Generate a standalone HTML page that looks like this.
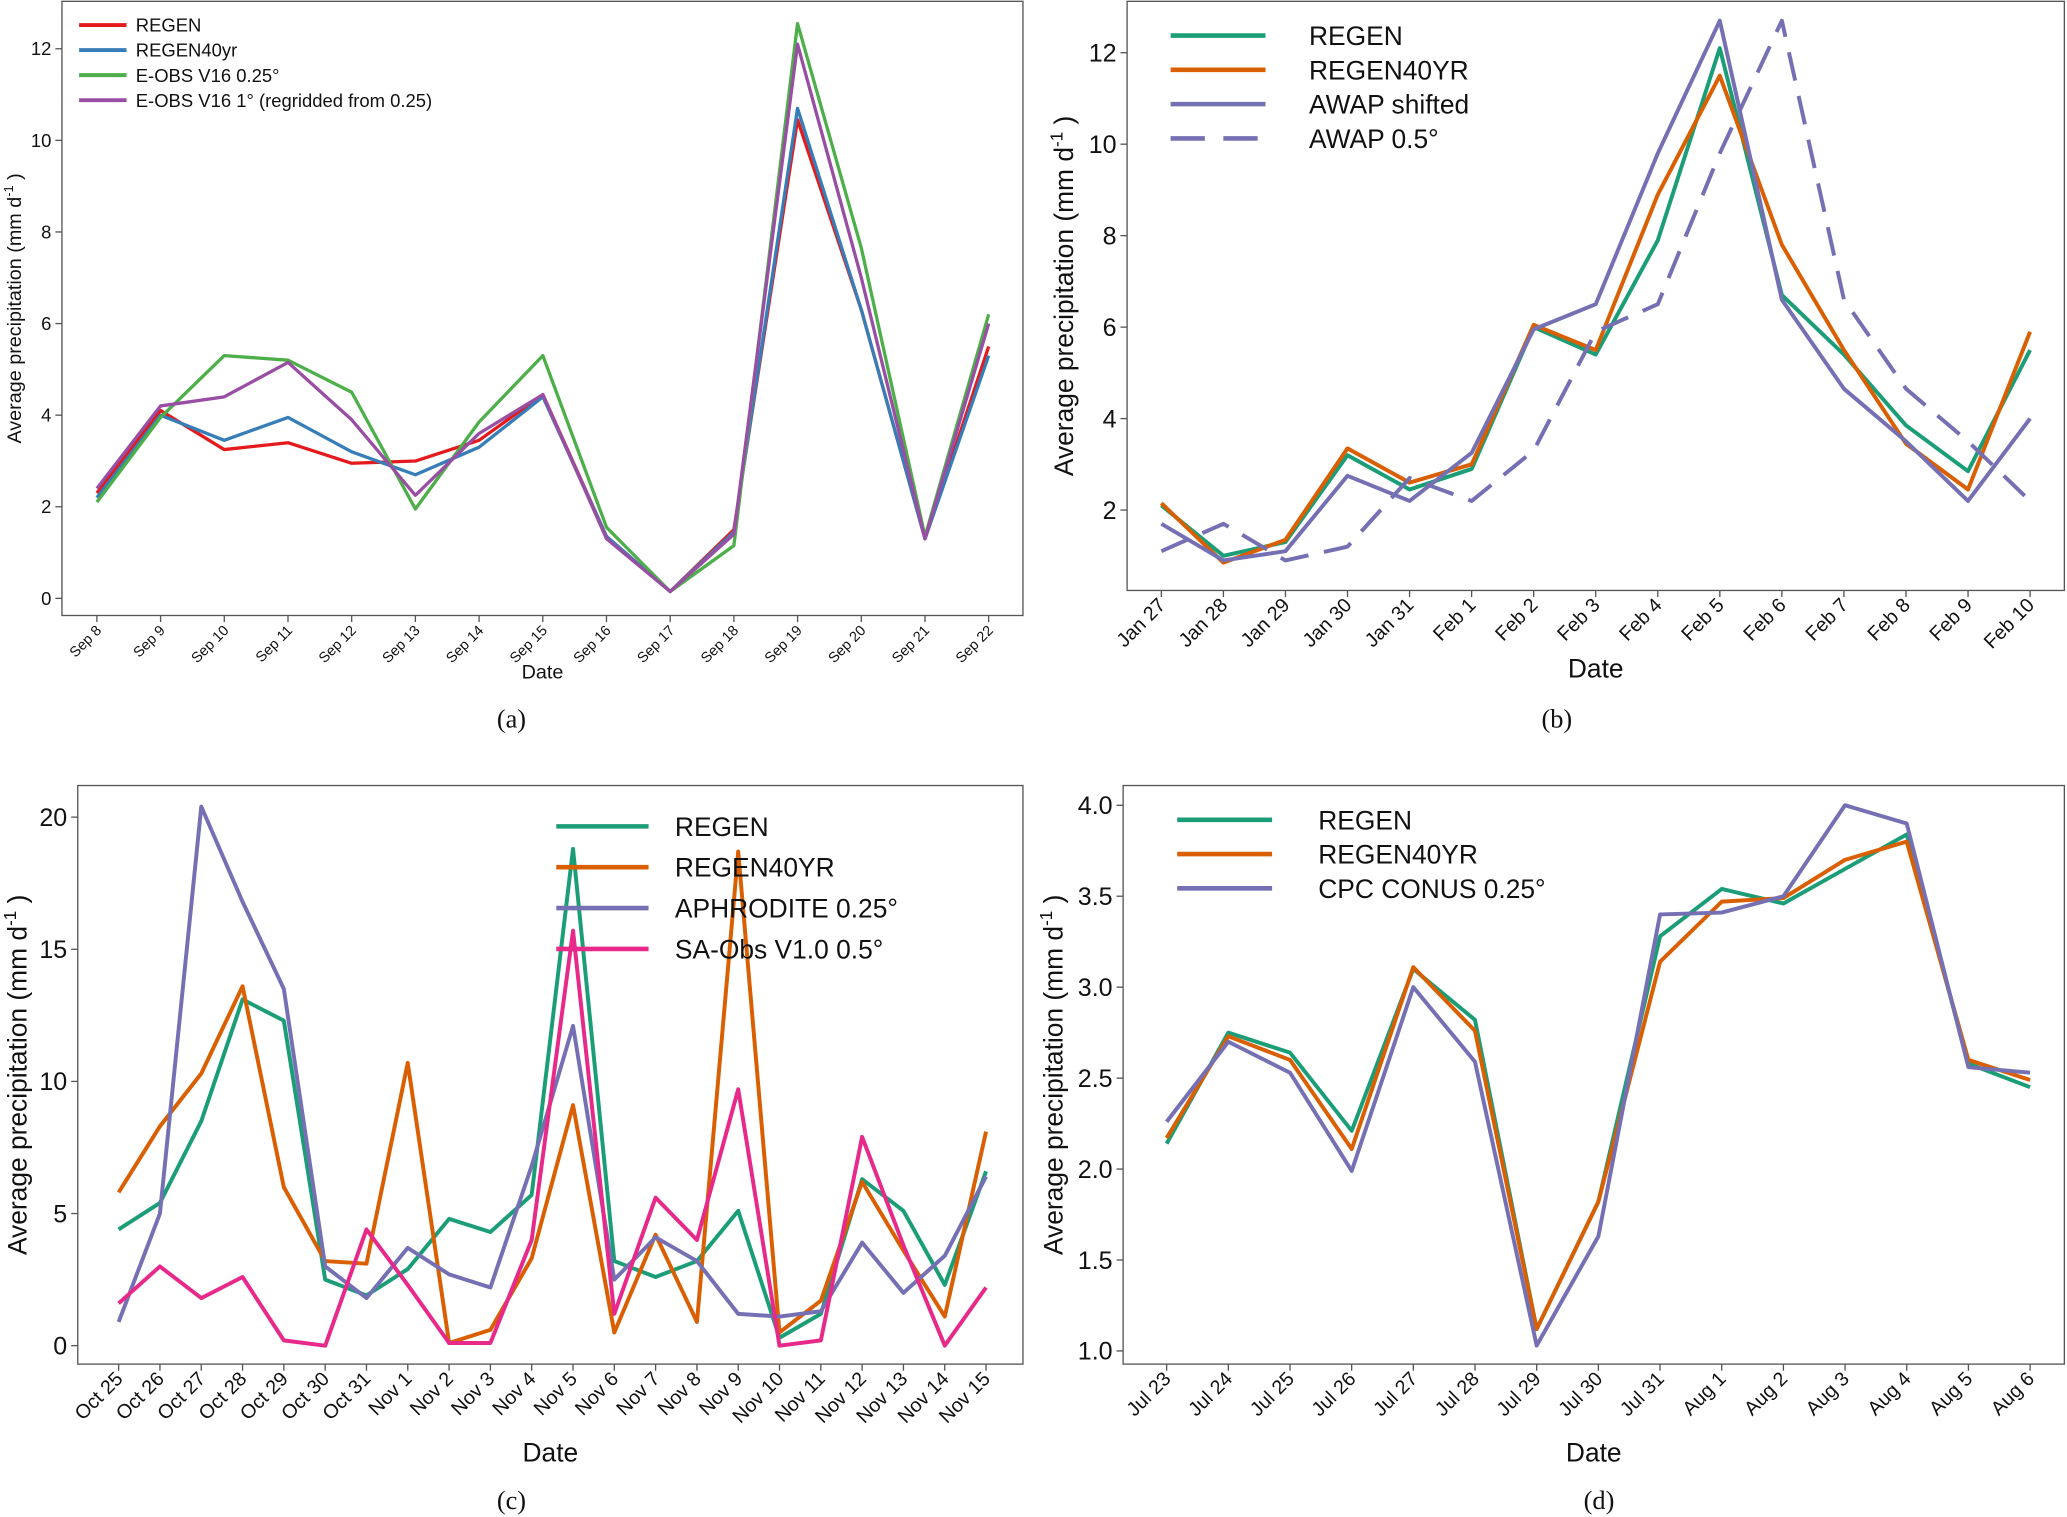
<!DOCTYPE html>
<html><head><meta charset="utf-8"><style>
html,body{margin:0;padding:0;background:#fff}
svg{display:block}
text{font-family:"Liberation Sans",sans-serif;fill:#111}
.cap{font-family:"Liberation Serif",serif;font-size:20px}
</style></head><body>
<svg id="fig" xmlns="http://www.w3.org/2000/svg" width="2067" height="1517" viewBox="0 0 1568 1151" preserveAspectRatio="none"></svg>
<script>
// Panel (a)
const catsA = ["Sep 8","Sep 9","Sep 10","Sep 11","Sep 12","Sep 13","Sep 14","Sep 15","Sep 16","Sep 17","Sep 18","Sep 19","Sep 20","Sep 21","Sep 22"];
const ticksA = [0,2,4,6,8,10,12];
const aRegen = [2.3,4.1,3.25,3.4,2.95,3.0,3.45,4.45,1.35,0.15,1.5,10.45,6.3,1.3,5.5];
const aRegen40 = [2.2,4.0,3.45,3.95,3.2,2.7,3.3,4.4,1.35,0.15,1.45,10.7,6.3,1.3,5.3];
const aEobs025 = [2.1,3.95,5.3,5.2,4.5,1.95,3.85,5.3,1.55,0.15,1.15,12.55,7.65,1.35,6.2];
const aEobs1 = [2.4,4.2,4.4,5.15,3.9,2.25,3.6,4.45,1.3,0.15,1.4,12.1,7.0,1.3,6.0];
// Panel (b)
const catsB = ["Jan 27","Jan 28","Jan 29","Jan 30","Jan 31","Feb 1","Feb 2","Feb 3","Feb 4","Feb 5","Feb 6","Feb 7","Feb 8","Feb 9","Feb 10"];
const ticksB = [2,4,6,8,10,12];
const bRegen = [2.1,1.0,1.3,3.2,2.45,2.9,6.0,5.4,7.9,12.1,6.7,5.4,3.85,2.85,5.5];
const bRegen40 = [2.15,0.85,1.35,3.35,2.6,3.0,6.05,5.5,8.9,11.5,7.8,5.5,3.45,2.45,5.9];
const bAwapShift = [1.7,0.9,1.1,2.75,2.2,3.25,5.95,6.5,9.8,12.7,6.6,4.65,3.5,2.2,4.0];
const bAwap05 = [1.1,1.7,0.9,1.2,2.7,2.2,3.3,5.9,6.5,9.8,12.7,6.6,4.65,3.5,2.2];
// Panel (c)
const catsC = ["Oct 25","Oct 26","Oct 27","Oct 28","Oct 29","Oct 30","Oct 31","Nov 1","Nov 2","Nov 3","Nov 4","Nov 5","Nov 6","Nov 7","Nov 8","Nov 9","Nov 10","Nov 11","Nov 12","Nov 13","Nov 14","Nov 15"];
const ticksC = [0,5,10,15,20];
const cRegen = [4.4,5.4,8.5,13.1,12.3,2.5,1.9,2.9,4.8,4.3,5.7,18.8,3.2,2.6,3.2,5.1,0.3,1.2,6.3,5.1,2.3,6.6];
const cRegen40 = [5.8,8.3,10.3,13.6,6.0,3.2,3.1,10.7,0.1,0.6,3.3,9.1,0.5,4.2,0.9,18.7,0.5,1.7,6.2,3.6,1.1,8.1];
const cAphro = [0.9,5.0,20.4,16.8,13.5,3.0,1.8,3.7,2.7,2.2,6.8,12.1,2.5,4.1,3.2,1.2,1.1,1.3,3.9,2.0,3.4,6.4];
const cSaobs = [1.6,3.0,1.8,2.6,0.2,0.0,4.4,2.3,0.1,0.1,4.0,15.7,1.2,5.6,4.0,9.7,0.0,0.2,7.9,3.8,0.0,2.2];
// Panel (d)
const catsD = ["Jul 23","Jul 24","Jul 25","Jul 26","Jul 27","Jul 28","Jul 29","Jul 30","Jul 31","Aug 1","Aug 2","Aug 3","Aug 4","Aug 5","Aug 6"];
const ticksD = [1.0,1.5,2.0,2.5,3.0,3.5,4.0];
const dRegen = [2.14,2.75,2.64,2.21,3.1,2.82,1.12,1.82,3.28,3.54,3.46,3.65,3.84,2.58,2.45];
const dRegen40 = [2.17,2.73,2.6,2.11,3.11,2.76,1.12,1.82,3.14,3.47,3.49,3.7,3.8,2.6,2.49];
const dCpc = [2.26,2.7,2.53,1.99,3.0,2.59,1.03,1.63,3.4,3.41,3.5,4.0,3.9,2.56,2.53];

const NS="http://www.w3.org/2000/svg";
const svg=document.getElementById('fig');
function mk(tag,attrs,parent,txt){const e=document.createElementNS(NS,tag);for(const k in attrs)e.setAttribute(k,attrs[k]);if(txt!==undefined)e.textContent=txt;(parent||svg).appendChild(e);return e;}

function panel(cfg){
  const g=mk('g',{});
  
  
  const n=cfg.cats.length;
  const xs=i=>cfg.x0+(cfg.x1-cfg.x0)*i/(n-1);
  const ys=v=>cfg.yb+(cfg.yt-cfg.yb)*(v-cfg.vb)/(cfg.vt-cfg.vb);
  const box=mk('rect',{x:cfg.bx0,y:cfg.by0,width:cfg.bx1-cfg.bx0,height:cfg.by1-cfg.by0,fill:'none',stroke:'#555','stroke-width':1},g);
  
  
  cfg.ticks.forEach(t=>{
    const y=ys(t);
    mk('line',{x1:cfg.bx0-5,x2:cfg.bx0,y1:y,y2:y,stroke:'#555'},g);
    const tl=mk('text',{x:cfg.bx0-8,y:y+cfg.fs*0.35,'text-anchor':'end','font-size':cfg.fs},g,cfg.dec?t.toFixed(1):String(t));
    
    
  });
  cfg.cats.forEach((c,i)=>{
    const x=xs(i);
    mk('line',{x1:x,x2:x,y1:cfg.by1,y2:cfg.by1+5,stroke:'#555'},g);
    const tl=mk('text',{x:x+4,y:cfg.by1+12,'text-anchor':'end','font-size':cfg.xfs,transform:`rotate(-45 ${x+4} ${cfg.by1+12})`},g,c);
    
    
  });
  const xt=mk('text',{x:(cfg.bx0+cfg.bx1)/2,y:cfg.xty,'text-anchor':'middle','font-size':cfg.tfs},g,'Date');
  
  
  const cy=(cfg.by0+cfg.by1)/2+cfg.ytoff;
  const yt=mk('text',{x:cfg.ytx,y:cy,'text-anchor':'middle','font-size':cfg.tfs,transform:`rotate(-90 ${cfg.ytx} ${cy})`},g);
  yt.textContent='Average precipitation (mm d';
  mk('tspan',{dy:-cfg.tfs*0.4,'font-size':cfg.tfs*0.65},yt,'-1');
  mk('tspan',{dy:cfg.tfs*0.4},yt,' )');
  
  
  cfg.series.forEach(s=>{
    const pts=s.data.map((v,i)=>xs(i).toFixed(1)+','+ys(v).toFixed(1)).join(' ');
    const pl=mk('polyline',{points:pts,fill:'none',stroke:s.color,'stroke-width':cfg.lw,'stroke-linejoin':'round','stroke-dasharray':s.dash||'none'},g);
    
    
  });
  const L=cfg.leg;
  cfg.series.forEach((s,i)=>{
    const y=L.y+i*L.dy;
    const le=mk('g',{},g);
    
    
    mk('line',{x1:L.x,x2:L.x+L.len,y1:y,y2:y,stroke:s.color,'stroke-width':cfg.lw+0.5,'stroke-dasharray':s.ldash||s.dash||'none'},le);
    mk('text',{x:L.tx,y:y+L.fs*0.36,'font-size':L.fs},le,s.label);
  });
  const cp=mk('text',{x:cfg.capx,y:cfg.capy,'text-anchor':'middle',class:'cap'},g,cfg.cap);
  
  
}

panel({name:'panel-a',cats:catsA,ticks:ticksA,x0:73.5,x1:750,yb:454,yt:37,vb:0,vt:12,bx0:47,bx1:776,by0:1,by1:467,fs:14,xfs:11,tfs:15,lw:2.5,xty:515,ytx:16,ytoff:0,
  cap:'(a)',capx:388,capy:552,
  leg:{x:60,len:36,tx:103,y:19,dy:19,fs:14},
  series:[{id:'regen',label:'REGEN',color:'#e41a1c',data:aRegen},{id:'regen40yr',label:'REGEN40yr',color:'#377eb8',data:aRegen40},
  {id:'eobs-025',label:'E-OBS V16 0.25°',color:'#4daf4a',data:aEobs025},{id:'eobs-1',label:'E-OBS V16 1° (regridded from 0.25)',color:'#984ea3',data:aEobs1}]});

panel({name:'panel-b',cats:catsB,ticks:ticksB,x0:881,x1:1540,yb:387,yt:40,vb:2,vt:12,bx0:855,bx1:1566,by0:1,by1:448,fs:19,xfs:15,tfs:20,lw:3,xty:514,ytx:814,ytoff:0,
  cap:'(b)',capx:1181,capy:552,
  leg:{x:888,len:72,tx:993,y:27,dy:26,fs:20},
  series:[{id:'regen',label:'REGEN',color:'#1b9e77',data:bRegen},{id:'regen40yr',label:'REGEN40YR',color:'#d95f02',data:bRegen40},
  {id:'awap-shifted',label:'AWAP shifted',color:'#7570b3',data:bAwapShift},{id:'awap-05',label:'AWAP 0.5°',color:'#7570b3',dash:'22 12',ldash:'26 14',data:bAwap05}]});

panel({name:'panel-c',cats:catsC,ticks:ticksC,x0:90,x1:748,yb:1021,yt:620,vb:0,vt:20,bx0:59,bx1:776,by0:596,by1:1035,fs:19,xfs:15,tfs:20,lw:3,xty:1109,ytx:20,ytoff:0,
  cap:'(c)',capx:388,capy:1145,
  leg:{x:422,len:70,tx:512,y:627,dy:31,fs:20},
  series:[{id:'regen',label:'REGEN',color:'#1b9e77',data:cRegen},{id:'regen40yr',label:'REGEN40YR',color:'#d95f02',data:cRegen40},
  {id:'aphrodite',label:'APHRODITE 0.25°',color:'#7570b3',data:cAphro},{id:'sa-obs',label:'SA-Obs V1.0 0.5°',color:'#e7298a',data:cSaobs}]});

panel({name:'panel-d',cats:catsD,ticks:ticksD,dec:true,x0:885,x1:1540,yb:1025,yt:611,vb:1,vt:4,bx0:852,bx1:1566,by0:596,by1:1035,fs:19,xfs:15,tfs:20,lw:3,xty:1109,ytx:806,ytoff:0,
  cap:'(d)',capx:1213,capy:1145,
  leg:{x:893,len:72,tx:1000,y:622,dy:26,fs:20},
  series:[{id:'regen',label:'REGEN',color:'#1b9e77',data:dRegen},{id:'regen40yr',label:'REGEN40YR',color:'#d95f02',data:dRegen40},
  {id:'cpc-conus',label:'CPC CONUS 0.25°',color:'#7570b3',data:dCpc}]});
</script>
</body></html>
